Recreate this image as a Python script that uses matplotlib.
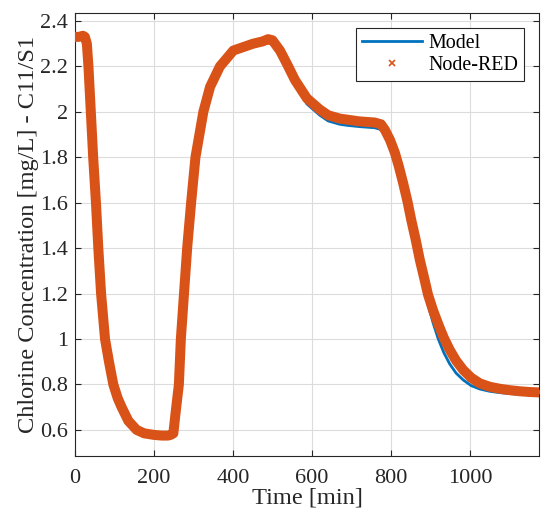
import matplotlib
matplotlib.use("Agg")
import matplotlib.pyplot as plt
from matplotlib.lines import Line2D
from matplotlib.ticker import FormatStrFormatter

# time axis [min] shared by both series
time_min = [0, 10, 20, 25, 30, 34, 40, 46, 53, 59, 66, 76, 86, 97, 108, 118, 135, 156,
            175, 200, 220, 235, 242, 249, 255, 263, 268, 276, 284, 294, 305, 325, 342,
            367, 401, 451, 475, 489, 500, 519, 537, 557, 587, 620, 641, 671, 692, 720,
            759, 775, 785, 798, 810, 820, 831, 842, 852, 863, 873, 884, 894, 907, 920,
            934, 949, 965, 983, 1003, 1025, 1050, 1076, 1100, 1127, 1150, 1175]

node_red = [2.33, 2.33, 2.335, 2.33, 2.30, 2.2, 2.0, 1.8, 1.6, 1.4, 1.2, 1.0, 0.9, 0.8,
            0.74, 0.70, 0.64, 0.60, 0.585, 0.578, 0.575, 0.575, 0.578, 0.585, 0.68, 0.8,
            1.0, 1.2, 1.4, 1.6, 1.8, 2.0, 2.11, 2.2, 2.27, 2.30, 2.31, 2.32, 2.315, 2.27,
            2.21, 2.14, 2.06, 2.01, 1.985, 1.97, 1.965, 1.958, 1.953, 1.945, 1.92, 1.875,
            1.82, 1.76, 1.686, 1.605, 1.52, 1.435, 1.35, 1.27, 1.195, 1.125, 1.065, 1.005,
            0.952, 0.905, 0.864, 0.83, 0.805, 0.79, 0.781, 0.775, 0.77, 0.767, 0.765]

model = [2.33, 2.33, 2.33, 2.33, 2.30, 2.2, 2.0, 1.8, 1.6, 1.4, 1.2, 1.0, 0.9, 0.8,
         0.74, 0.70, 0.64, 0.60, 0.585, 0.578, 0.575, 0.575, 0.578, 0.585, 0.68, 0.8,
         1.0, 1.2, 1.4, 1.6, 1.8, 2.0, 2.11, 2.2, 2.27, 2.30, 2.31, 2.315, 2.31, 2.265,
         2.20, 2.125, 2.035, 1.985, 1.96, 1.945, 1.94, 1.935, 1.93, 1.922, 1.90, 1.86,
         1.805, 1.745, 1.67, 1.585, 1.495, 1.40, 1.315, 1.23, 1.15, 1.07, 1.0, 0.94,
         0.89, 0.85, 0.82, 0.795, 0.78, 0.77, 0.764, 0.76, 0.757, 0.755, 0.753]

blue = "#0072BD"
orange = "#D95319"
dark = "#262626"

plt.rcParams["font.family"] = ["Liberation Serif", "DejaVu Serif"]
plt.rcParams["font.size"] = 16

fig = plt.figure(figsize=(5.5, 5.27), dpi=100)
ax = fig.add_axes([0.1364, 0.1338, 0.98 - 0.1364, 0.9753 - 0.1338])

ax.plot(time_min, model, color=blue, lw=2.0, zorder=3)
# Node-RED samples are dense markers -> thick band plus the read points
ax.plot(time_min, node_red, color=orange, lw=7.2, solid_joinstyle="round",
        solid_capstyle="round", zorder=4)
ax.plot(time_min, node_red, "x", color=orange, ms=5, mew=1.6, zorder=5)

ax.set_xlim(0, 1175)
ax.set_ylim(0.483, 2.435)
ax.set_xticks([0, 200, 400, 600, 800, 1000])
ax.set_yticks([0.6, 0.8, 1.0, 1.2, 1.4, 1.6, 1.8, 2.0, 2.2, 2.4])
ax.yaxis.set_major_formatter(FormatStrFormatter("%g"))

ax.grid(True, color="#dcdcdc", lw=0.8)
ax.set_axisbelow(True)
ax.tick_params(direction="in", top=True, right=True, length=4, width=0.8,
               colors=dark, labelcolor=dark)
ax.tick_params(axis="x", pad=9)
ax.tick_params(axis="y", pad=5)
for s in ax.spines.values():
    s.set_color(dark)
    s.set_linewidth(0.8)

ax.set_xlabel("Time [min]", color=dark, fontsize=17.6, labelpad=0)
ax.set_ylabel("Chlorine Concentration [mg/L] - C11/S1", color=dark, fontsize=17.6,
              labelpad=1)

handles = [Line2D([], [], color=blue, lw=2.0),
           Line2D([], [], color=orange, ls="none", marker="x", ms=5, mew=1.2)]
leg = ax.legend(handles, ["Model", "Node-RED"], loc="upper right", fancybox=False,
                framealpha=1, edgecolor=dark, fontsize=14.4, borderaxespad=0.75,
                handlelength=3.0, handletextpad=0.3, borderpad=0.3, labelspacing=0.15)
leg.get_frame().set_linewidth(0.8)

fig.savefig("out.png", dpi=100)
